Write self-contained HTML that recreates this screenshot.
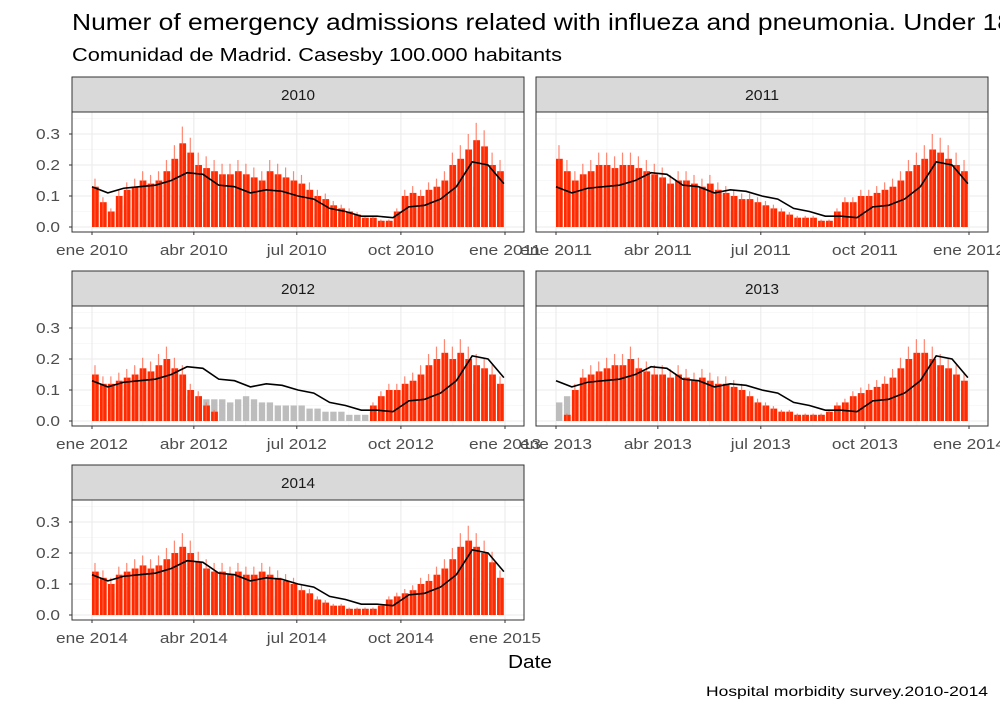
<!DOCTYPE html>
<html><head><meta charset="utf-8"><style>
body{margin:0;background:#fff;font-family:"Liberation Sans",Arial,sans-serif;overflow:hidden}
svg text{font-family:"Liberation Sans",Arial,sans-serif}
</style></head><body>
<svg id="chart" width="1000" height="714" xmlns="http://www.w3.org/2000/svg">
<text x="72" y="30" font-size="23" fill="#000" textLength="940" lengthAdjust="spacingAndGlyphs">Numer of emergency admissions related with influeza and pneumonia. Under 18</text>
<text x="72" y="61" font-size="18" fill="#000" textLength="490" lengthAdjust="spacingAndGlyphs">Comunidad de Madrid. Casesby 100.000 habitants</text>
<text x="508" y="668" font-size="18" fill="#000" textLength="44" lengthAdjust="spacingAndGlyphs">Date</text>
<text x="706" y="696" font-size="14" fill="#000" textLength="282" lengthAdjust="spacingAndGlyphs">Hospital morbidity survey.2010-2014</text>
</svg>
<script>
const years=["2010","2011","2012","2013","2014"];
const yTicks=[0,0.1,0.2,0.3];
const yTickLabels=["0.0","0.1","0.2","0.3"];
const monthTicks=[0,90,181,273,365];
const monthNames=["ene","abr","jul","oct","ene"];
const smooth=[0.13,0.11,0.125,0.13,0.135,0.15,0.175,0.17,0.135,0.13,0.11,0.12,0.115,0.10,0.09,0.06,0.05,0.035,0.035,0.03,0.065,0.07,0.09,0.13,0.21,0.2,0.14];
const red2010=[0.13,0.08,0.05,0.1,0.12,0.13,0.15,0.14,0.15,0.18,0.22,0.27,0.24,0.2,0.19,0.18,0.17,0.17,0.18,0.17,0.16,0.15,0.18,0.17,0.16,0.15,0.14,0.12,0.1,0.09,0.07,0.06,0.05,0.04,0.03,0.03,0.02,0.02,0.05,0.1,0.11,0.1,0.12,0.13,0.15,0.2,0.22,0.25,0.28,0.26,0.2,0.18];
const gray2010=[0.06,0.06,0.05,0.06,0.07,0.06,0.08,0.07,0.08,0.09,0.1,0.1,0.1,0.09,0.08,0.08,0.08,0.07,0.07,0.07,0.07,0.07,0.06,0.06,0.06,0.05,0.05,0.05,0.04,0.04,0.03,0.03,0.03,0.02,0.02,0.02,0.02,0.02,0.03,0.05,0.05,0.06,0.06,0.07,0.08,0.09,0.1,0.12,0.13,0.12,0.1,0.08];
const red2011=[0.22,0.18,0.15,0.17,0.18,0.2,0.2,0.19,0.2,0.2,0.19,0.18,0.17,0.16,0.14,0.15,0.15,0.14,0.13,0.14,0.12,0.11,0.1,0.09,0.09,0.08,0.07,0.06,0.05,0.04,0.03,0.03,0.03,0.02,0.02,0.05,0.08,0.08,0.1,0.1,0.11,0.12,0.13,0.15,0.18,0.2,0.22,0.25,0.24,0.22,0.2,0.18];
const gray2011=[0.08,0.08,0.07,0.07,0.08,0.08,0.09,0.09,0.09,0.1,0.09,0.09,0.08,0.08,0.07,0.07,0.07,0.07,0.06,0.06,0.06,0.05,0.05,0.05,0.04,0.04,0.04,0.03,0.03,0.03,0.02,0.02,0.02,0.02,0.02,0.03,0.04,0.05,0.05,0.06,0.06,0.07,0.07,0.08,0.09,0.1,0.11,0.12,0.12,0.11,0.1,0.09];
const red2012=[0.15,0.12,0.12,0.13,0.14,0.15,0.17,0.16,0.18,0.2,0.17,0.15,0.1,0.08,0.05,0.03,0,0,0,0,0,0,0,0,0,0,0,0,0,0,0,0,0,0,0,0.05,0.08,0.1,0.1,0.12,0.13,0.15,0.18,0.2,0.22,0.2,0.22,0.2,0.18,0.17,0.15,0.12];
const gray2012=[0.07,0.07,0.07,0.07,0.08,0.08,0.08,0.09,0.09,0.09,0.09,0.08,0.08,0.08,0.07,0.07,0.07,0.06,0.07,0.08,0.07,0.06,0.06,0.05,0.05,0.05,0.05,0.04,0.04,0.03,0.03,0.03,0.02,0.02,0.02,0.03,0.05,0.06,0.07,0.08,0.08,0.09,0.1,0.11,0.12,0.13,0.13,0.13,0.12,0.12,0.11,0.1];
const red2013=[0,0.02,0.1,0.14,0.15,0.16,0.17,0.18,0.18,0.2,0.17,0.16,0.15,0.15,0.14,0.15,0.14,0.13,0.14,0.13,0.12,0.12,0.11,0.1,0.08,0.06,0.05,0.04,0.03,0.03,0.02,0.02,0.02,0.02,0.03,0.05,0.06,0.08,0.09,0.1,0.11,0.12,0.14,0.17,0.2,0.22,0.22,0.2,0.18,0.17,0.15,0.13];
const gray2013=[0.06,0.08,0.08,0.08,0.09,0.09,0.09,0.1,0.1,0.1,0.09,0.09,0.08,0.08,0.08,0.07,0.07,0.07,0.07,0.06,0.06,0.06,0.05,0.05,0.05,0.04,0.04,0.03,0.03,0.03,0.02,0.02,0.02,0.02,0.02,0.03,0.04,0.05,0.05,0.06,0.06,0.07,0.08,0.09,0.1,0.11,0.12,0.12,0.11,0.1,0.1,0.09];
const red2014=[0.14,0.12,0.1,0.13,0.14,0.15,0.16,0.15,0.16,0.18,0.2,0.22,0.2,0.17,0.15,0.14,0.14,0.13,0.14,0.13,0.13,0.14,0.13,0.12,0.11,0.1,0.08,0.07,0.05,0.04,0.03,0.03,0.02,0.02,0.02,0.02,0.03,0.05,0.06,0.07,0.08,0.1,0.11,0.13,0.15,0.18,0.22,0.24,0.22,0.2,0.17,0.12];
const gray2014=[0.07,0.07,0.07,0.07,0.08,0.08,0.08,0.09,0.09,0.1,0.1,0.1,0.09,0.09,0.08,0.08,0.08,0.07,0.07,0.07,0.07,0.06,0.06,0.06,0.05,0.05,0.05,0.04,0.04,0.03,0.03,0.03,0.02,0.02,0.02,0.02,0.03,0.04,0.05,0.05,0.06,0.07,0.07,0.08,0.09,0.1,0.11,0.12,0.12,0.11,0.1,0.08];
const redSeries=[red2010,red2011,red2012,red2013,red2014];
const graySeries=[gray2010,gray2011,gray2012,gray2013,gray2014];

const NS="http://www.w3.org/2000/svg";
const svg=document.getElementById("chart");
function mk(tag,attrs,parent){const e=document.createElementNS(NS,tag);for(const k in attrs)e.setAttribute(k,attrs[k]);(parent||svg).appendChild(e);return e;}
const PW=452, DAY=413/365;
years.forEach((yr,p)=>{
  const col=p%2,row=Math.floor(p/2);
  const left=72+col*464, stripTop=77+row*194, plotTop=112+row*194, plotBot=232+row*194, zeroY=227+row*194;
  const x=d=>left+20+d*DAY;
  const y=v=>zeroY-v*310;
  const g=mk("g",{});
  
  
  const strip=mk("rect",{x:left,y:stripTop,width:PW,height:plotTop-stripTop,fill:"#d9d9d9",stroke:"#333","stroke-width":1},g);
  
  
  const st=mk("text",{x:left+PW/2-17,y:stripTop+23,"font-size":15,fill:"#1a1a1a",textLength:34,lengthAdjust:"spacingAndGlyphs"},g);
  st.textContent=yr;
  
  
  for(let v=0.05;v<0.4;v+=0.1){if(y(v)>plotTop)mk("line",{x1:left,x2:left+PW,y1:y(v),y2:y(v),stroke:"#f2f2f2","stroke-width":0.6},g);}
  for(let i=0;i<monthTicks.length-1;i++){const m=(monthTicks[i]+monthTicks[i+1])/2;mk("line",{x1:x(m),x2:x(m),y1:plotTop,y2:plotBot,stroke:"#f2f2f2","stroke-width":0.6},g);}
  yTicks.forEach(v=>mk("line",{x1:left,x2:left+PW,y1:y(v),y2:y(v),stroke:"#ebebeb","stroke-width":1.1},g));
  monthTicks.forEach(d=>mk("line",{x1:x(d),x2:x(d),y1:plotTop,y2:plotBot,stroke:"#ebebeb","stroke-width":1.1},g));
  const gs=graySeries[p], rs=redSeries[p];
  const wk=365/gs.length;
  gs.forEach((v,i)=>{const b=mk("rect",{x:x(i*wk),y:y(v),width:wk*DAY*0.8,height:zeroY-y(v),fill:"#bdbdbd"},g);
    
    });
  rs.forEach((v,i)=>{if(v<=0)return;const b=mk("rect",{x:x(i*wk),y:y(v),width:wk*DAY*0.85,height:zeroY-y(v),fill:"#ff2a00"},g);
    
    
    const h=mk("rect",{x:x(i*wk)+wk*DAY*0.3,y:y(v*1.2),width:1.2,height:zeroY-y(v*1.2),fill:"#ff6a50",opacity:0.8},g);
    
    });
  const st2=364/(smooth.length-1);
  const pl=mk("polyline",{points:smooth.map((v,i)=>x(i*st2)+","+y(v)).join(" "),fill:"none",stroke:"#000","stroke-width":1.6},g);
  
  
  const fr=mk("rect",{x:left,y:plotTop,width:PW,height:plotBot-plotTop,fill:"none",stroke:"#333","stroke-width":1},g);
  
  
  if(col===0){
  yTicks.forEach((v,i)=>{mk("line",{x1:left-3,x2:left,y1:y(v),y2:y(v),stroke:"#333"},g);
    const t=mk("text",{x:left-36,y:y(v)+5,"font-size":15,fill:"#4d4d4d",textLength:24,lengthAdjust:"spacingAndGlyphs"},g);
    t.textContent=yTickLabels[i];
    
    });
  }
  monthTicks.forEach((d,i)=>{mk("line",{x1:x(d),x2:x(d),y1:plotBot,y2:plotBot+3,stroke:"#333"},g);
    const lbl=monthNames[i]+" "+(i===4?(+yr+1):yr);
    const w=lbl.startsWith("jul")?60:(lbl.startsWith("oct")?66:(lbl.startsWith("abr")?68:72));
    const t=mk("text",{x:x(d)-w/2,y:plotBot+23,"font-size":15,fill:"#4d4d4d",textLength:w,lengthAdjust:"spacingAndGlyphs"},g);
    t.textContent=lbl;
    
    });
});
</script>
</body></html>
